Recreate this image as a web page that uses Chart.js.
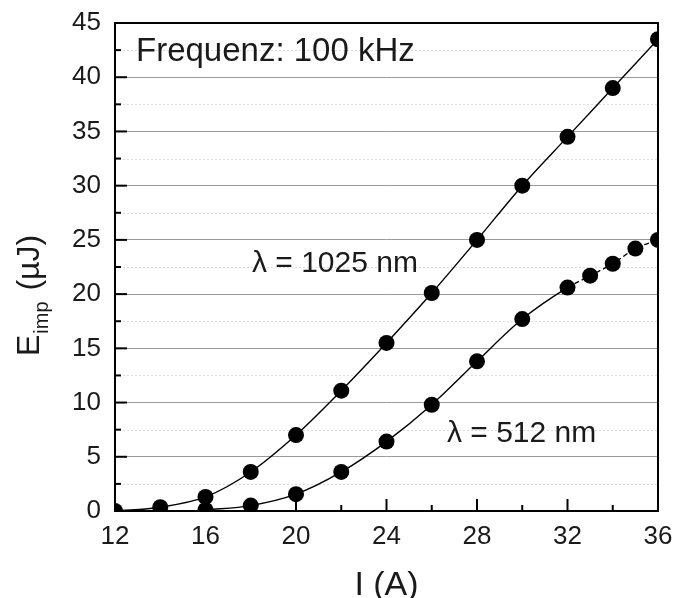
<!DOCTYPE html>
<html>
<head>
<meta charset="utf-8">
<script src="https://cdn.jsdelivr.net/npm/chart.js@4/dist/chart.umd.min.js"></script>
<style>
  html, body { margin: 0; padding: 0; background: #ffffff; }
  canvas { display: block; }
</style>
</head>
<body>
<canvas id="c" width="675" height="598"></canvas>
<script>
// ---- data ----
const current1025 = [12, 14, 16, 18, 20, 22, 24, 26, 28, 30, 32, 34, 36];
const energy1025  = [0, 0.35, 1.3, 3.6, 7.0, 11.1, 15.5, 20.1, 25.0, 30.0, 34.5, 39.0, 43.5];
const current512  = [16, 18, 20, 22, 24, 26, 28, 30, 32, 33, 34, 35, 36];
const energy512   = [0.1, 0.5, 1.55, 3.6, 6.4, 9.8, 13.8, 17.7, 20.6, 21.7, 22.8, 24.2, 25.0];
const xTicksMajor = [12, 16, 20, 24, 28, 32, 36];
const yTicksMajor = [0, 5, 10, 15, 20, 25, 30, 35, 40, 45];
const label1025 = 'λ = 1025 nm';
const label512 = 'λ = 512 nm';
const freqText = 'Frequenz: 100 kHz';

const FONT = "'Liberation Sans', Arial, Helvetica, sans-serif";
const TEXT = '#1a1a1a';

function pts(xs, ys) { return xs.map((x, i) => ({ x: x, y: ys[i] })); }

const decor = {
  id: 'decor',
  beforeDatasetsDraw(chart) {
    const { ctx, chartArea: a, scales: { y } } = chart;
    ctx.save();
    ctx.strokeStyle = '#dddddd';
    ctx.lineWidth = 1;
    ctx.setLineDash([2, 2]);
    for (let v = 2.5; v < 45; v += 5) {
      const py = Math.round(y.getPixelForValue(v)) + 0.5;
      ctx.beginPath(); ctx.moveTo(a.left, py); ctx.lineTo(a.right, py); ctx.stroke();
    }
    ctx.restore();
  },
  afterDraw(chart) {
    const { ctx, chartArea: a, scales: { x, y } } = chart;
    ctx.save();
    // frame
    ctx.strokeStyle = '#000';
    ctx.lineWidth = 2;
    ctx.strokeRect(a.left, a.top, a.right - a.left, a.bottom - a.top);
    // inward ticks
    for (let v = 0; v <= 45; v += 2.5) {
      const py = y.getPixelForValue(v);
      const len = (v % 5 === 0) ? 12 : 6;
      ctx.beginPath(); ctx.moveTo(a.left, py); ctx.lineTo(a.left + len, py); ctx.stroke();
    }
    for (let v = 12; v <= 36; v += 2) {
      const px = x.getPixelForValue(v);
      const len = (v % 4 === 0) ? 12 : 6;
      ctx.beginPath(); ctx.moveTo(px, a.bottom); ctx.lineTo(px, a.bottom - len); ctx.stroke();
    }
    // annotations
    ctx.fillStyle = TEXT;
    ctx.textBaseline = 'alphabetic';
    ctx.textAlign = 'left';
    ctx.font = '33px ' + FONT;
    ctx.fillText(freqText, 136, 61);
    ctx.font = '30px ' + FONT;
    ctx.fillText(label1025, 252, 272);
    ctx.fillText(label512, 447, 442);
    // x title
    ctx.font = '34px ' + FONT;
    ctx.textAlign = 'center';
    ctx.fillText('I (A)', (a.left + a.right) / 2, 595);
    // y title with subscript
    ctx.translate(39, 356);
    ctx.rotate(-Math.PI / 2);
    ctx.textAlign = 'left';
    ctx.font = '32px ' + FONT;
    ctx.fillText('E', 0, 0);
    let w = ctx.measureText('E').width;
    ctx.font = '20px ' + FONT;
    ctx.fillText('imp', w + 1, 9);
    w += 1 + ctx.measureText('imp').width;
    ctx.font = '32px ' + FONT;
    ctx.fillText(' (µJ)', w + 2, 0);
    ctx.restore();
  }
};

new Chart(document.getElementById('c'), {
  type: 'scatter',
  data: {
    datasets: [
      {
        label: label1025,
        data: pts(current1025, energy1025),
        showLine: true,
        borderColor: '#000',
        borderWidth: 1.4,
        backgroundColor: '#000',
        pointBackgroundColor: '#000',
        pointBorderColor: '#000',
        pointRadius: 8,
        pointBorderWidth: 0,
        cubicInterpolationMode: 'monotone'
      },
      {
        label: label512,
        data: pts(current512, energy512),
        showLine: true,
        borderColor: '#000',
        borderWidth: 1.4,
        backgroundColor: '#000',
        pointBackgroundColor: '#000',
        pointBorderColor: '#000',
        pointRadius: 8,
        pointBorderWidth: 0,
        cubicInterpolationMode: 'monotone',
        segment: {
          borderDash: ctx => (ctx.p0.parsed.x >= 32 ? [5, 3] : undefined)
        }
      }
    ]
  },
  options: {
    responsive: false,
    animation: false,
    layout: { autoPadding: false, padding: { left: 0, right: 17, top: 23, bottom: 0 } },
    plugins: { legend: { display: false }, tooltip: { enabled: false } },
    scales: {
      x: {
        type: 'linear',
        min: 12, max: 36,
        afterBuildTicks: s => { s.ticks = xTicksMajor.map(v => ({ value: v })); },
        afterFit: s => { s.height = 87; s.paddingLeft = 0; s.paddingRight = 0; },
        ticks: {
          autoSkip: false,
          maxRotation: 0,
          padding: 10,
          color: TEXT,
          font: { family: FONT, size: 26 }
        },
        grid: { display: false, drawTicks: false },
        border: { display: false }
      },
      y: {
        type: 'linear',
        min: 0, max: 45,
        afterBuildTicks: s => { s.ticks = yTicksMajor.map(v => ({ value: v })); },
        afterFit: s => { s.width = 115; s.paddingTop = 0; s.paddingBottom = 0; },
        ticks: {
          autoSkip: false,
          padding: 14,
          color: TEXT,
          font: { family: FONT, size: 26 }
        },
        grid: {
          drawTicks: false,
          lineWidth: 1,
          color: c => (c.tick && (c.tick.value === 0 || c.tick.value === 45)) ? 'rgba(0,0,0,0)' : '#9a9a9a'
        },
        border: { display: false }
      }
    }
  },
  plugins: [decor]
});
</script>
</body>
</html>
